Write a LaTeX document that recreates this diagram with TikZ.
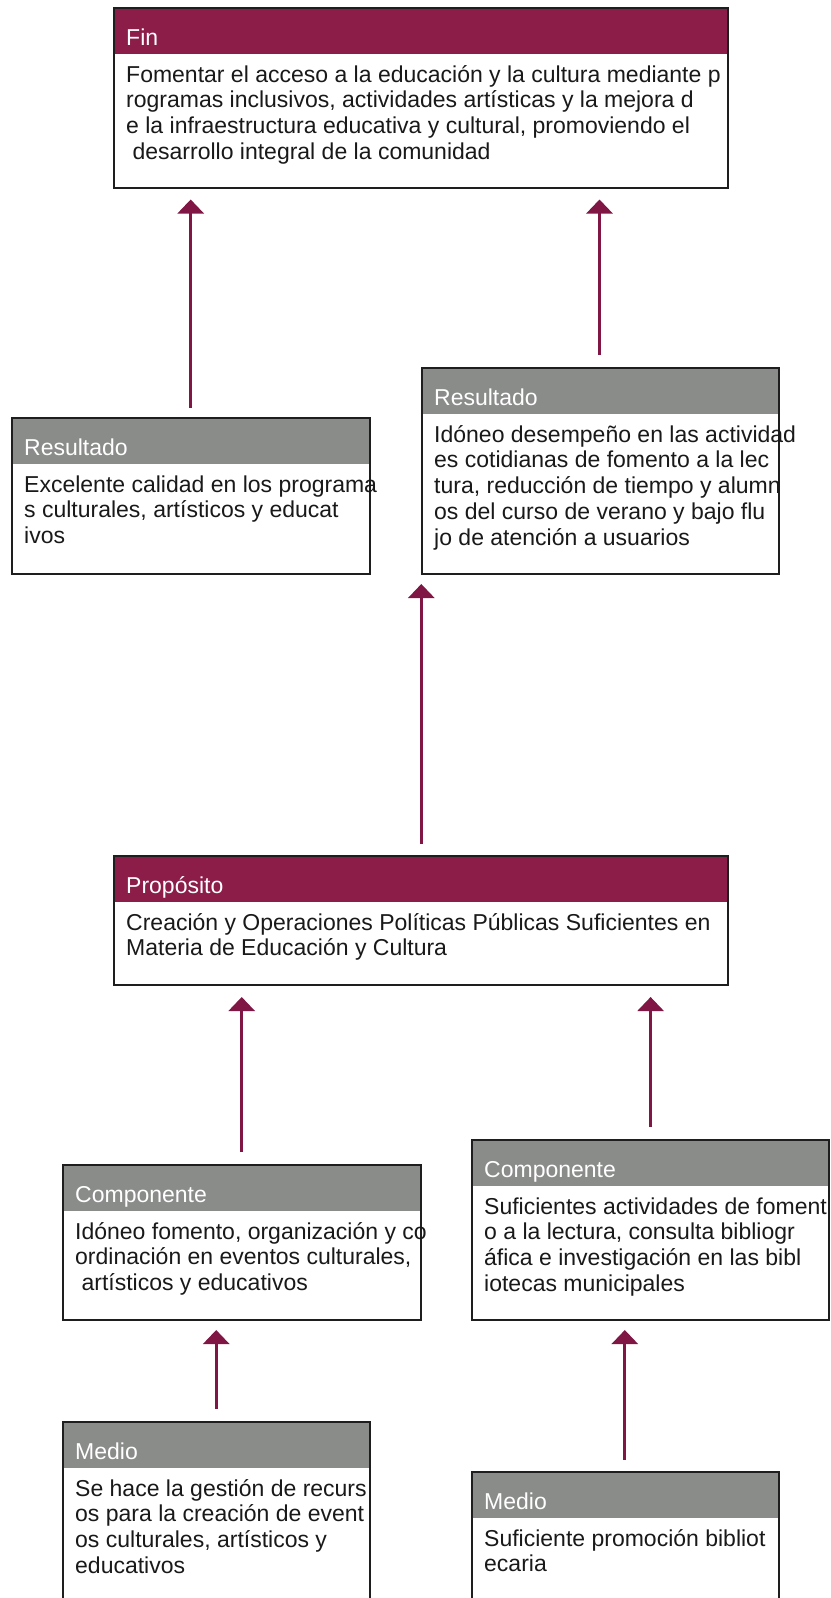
\documentclass[tikz,border=0pt]{standalone}
\usepackage{fontspec}
\setmainfont{Liberation Sans}
\usetikzlibrary{arrows.meta}
\definecolor{maroonhdr}{RGB}{140,28,72}
\definecolor{grayhdr}{RGB}{138,140,138}
\definecolor{arrowcol}{RGB}{128,22,68}
\definecolor{framecol}{RGB}{30,30,30}
\definecolor{txtcol}{RGB}{25,25,25}
\tikzset{
  boxframe/.style={draw=none, fill=white, inner sep=0pt, outer sep=0pt},
  boxline/.style={draw=framecol, line width=2.8pt},
  hdrtext/.style={text=white, inner sep=0pt, font=\fontsize{23}{25.8}\selectfont},
  bodytext/.style={text=txtcol, inner sep=0pt, font=\fontsize{23}{25.8}\selectfont},
  uparrow/.style={draw=arrowcol, line width=2.8pt, -{Triangle[width=26pt,length=14pt]}},
}
\newcommand\mlbox[8]{%
  \node[boxframe, minimum width=#4pt, minimum height=#5pt, anchor=north west] (#1) at (#2,#3) {};
  \fill[#6] (#1.north west) rectangle ([yshift=-46pt]#1.north east);
  \draw[boxline] (#1.north west) rectangle (#1.south east);
  \node[hdrtext, anchor=base west] (#1-h) at ([xshift=12pt,yshift=-37pt]#1.north west) {#7};
  \node[bodytext, anchor=base west] (#1-t) at ([xshift=12pt,yshift=-74pt]#1.north west)
    {\begin{tabular}[t]{@{}l@{}}#8\end{tabular}};
}
\newcommand\lsp{\hspace*{0.278em}}
\begin{document}
\begin{tikzpicture}[x=1pt,y=-1pt]
\useasboundingbox (0,0) rectangle (830,1598);
\fill[white] (0,0) rectangle (830,1598);
\clip (0,0) rectangle (830,1598);

\mlbox{fin}{114}{8}{614}{180}{maroonhdr}{Fin}{Fomentar el acceso a la educación y la cultura mediante p\\rogramas inclusivos, actividades artísticas y la mejora d\\e la infraestructura educativa y cultural, promoviendo el\\\lsp desarrollo integral de la comunidad}

\mlbox{resL}{12}{418}{358}{156}{grayhdr}{Resultado}{Excelente calidad en los programa\\s culturales, artísticos y educat\\ivos}

\mlbox{resR}{422}{368}{357}{206}{grayhdr}{Resultado}{Idóneo desempeño en las actividad\\es cotidianas de fomento a la lec\\tura, reducción de tiempo y alumn\\os del curso de verano y bajo flu\\jo de atención a usuarios}

\mlbox{prop}{114}{856}{614}{129}{maroonhdr}{Propósito}{Creación y Operaciones Políticas Públicas Suficientes en\\Materia de Educación y Cultura}

\mlbox{compL}{63}{1165}{358}{155}{grayhdr}{Componente}{Idóneo fomento, organización y co\\ordinación en eventos culturales,\\\lsp artísticos y educativos}

\mlbox{compR}{472}{1140}{357}{180}{grayhdr}{Componente}{Suficientes actividades de foment\\o a la lectura, consulta bibliogr\\áfica e investigación en las bibl\\iotecas municipales}

\mlbox{medL}{63}{1422}{307}{220}{grayhdr}{Medio}{Se hace la gestión de recurs\\os para la creación de event\\os culturales, artísticos y\\educativos}

\mlbox{medR}{472}{1472}{307}{170}{grayhdr}{Medio}{Suficiente promoción bibliot\\ecaria}

% arrow end points
\coordinate (a1s) at (190.7,408);
\coordinate (a1t) at (190.7,199.5);
\coordinate (a2s) at (599.5,355);
\coordinate (a2t) at (599.5,199.5);
\coordinate (a3s) at (421.3,844);
\coordinate (a3t) at (421.3,584);
\coordinate (a4s) at (241.7,1152);
\coordinate (a4t) at (241.7,997);
\coordinate (a5s) at (650.6,1127);
\coordinate (a5t) at (650.6,997);
\coordinate (a6s) at (216.2,1409);
\coordinate (a6t) at (216.2,1330);
\coordinate (a7s) at (624.8,1460);
\coordinate (a7t) at (624.8,1330);

\draw[uparrow] (a1s) -- (a1t);
\draw[uparrow] (a2s) -- (a2t);
\draw[uparrow] (a3s) -- (a3t);
\draw[uparrow] (a4s) -- (a4t);
\draw[uparrow] (a5s) -- (a5t);
\draw[uparrow] (a6s) -- (a6t);
\draw[uparrow] (a7s) -- (a7t);
\end{tikzpicture}
\end{document}
